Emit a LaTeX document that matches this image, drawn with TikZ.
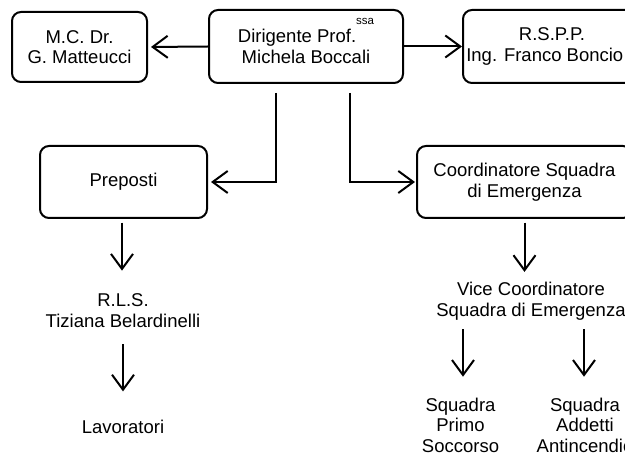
\documentclass[tikz,border=0pt]{standalone}
\usepackage{fontspec}
\setmainfont{Liberation Sans}
\usetikzlibrary{arrows.meta}

\tikzset{
  box/.style={draw, line width=2pt, rounded corners=9pt, align=center, minimum height=72pt, inner sep=0pt},
  txt/.style={align=center, inner sep=0pt},
  arr/.style={-{Straight Barb[length=15pt,width=22pt]}, line width=2pt},
}

\begin{document}
\begin{tikzpicture}[x=1pt, y=-1pt, font=\fontsize{18.5}{20.5}\selectfont]
\useasboundingbox (0,0) rectangle (625,454);

\node[box, minimum width=135pt, minimum height=70pt] (mc) at (79.5,47) {M.C. Dr.\\G. Matteucci};
\node[box, minimum width=194pt, minimum height=73pt] (dir) at (306,46.5) {Dirigente Prof.\raisebox{18.5pt}[0pt][0pt]{\fontsize{11.5}{12}\selectfont ssa}\\Michela Boccali};
\node[box, minimum width=178pt, minimum height=73pt] (rspp) at (552,46.5) {R.S.P.P.\\Ing. Franco Boncio\phantom{ni}};
\node[box, minimum width=167pt] (prep) at (123.5,182) {Preposti};
\node[box, minimum width=215pt] (coord) at (524.5,182) {Coordinatore Squadra\\di Emergenza};
\node[txt] (rls) at (123,310.4) {R.L.S.\\Tiziana Belardinelli};
\node[txt] (lav) at (123,426.7) {Lavoratori};
\node[txt] (vice) at (531,301) {Vice Coordinatore\\Squadra di Emergenza};
\node[txt] (sps) at (460.5,425.2) {Squadra\\Primo\\Soccorso};
\node[txt] (saa) at (585,425.2) {Squadra\\Addetti\\Antincendio};

\draw[arr, shorten >=3pt] (dir.west) -- (mc.east);
\draw[arr] (dir.east) -- (rspp.west);
\draw[arr, shorten <=9pt, shorten >=3pt] ([xshift=-30pt]dir.south) |- (prep.east);
\draw[arr, shorten <=9pt, shorten >=1pt] ([xshift=44pt]dir.south) |- (coord.west);
\draw[arr, shorten <=3.7pt, shorten >=22.8pt] ([xshift=-1.5pt]prep.south) -- ([xshift=-1.5pt]prep.south |- rls.north);
\draw[arr, shorten <=16.7pt, shorten >=28.3pt] (rls.south) -- (lav.north);
\draw[arr, shorten <=3.7pt, shorten >=10pt] (coord.south) -- (coord.south |- vice.north);
\draw[arr, shorten <=9.4pt, shorten >=21pt] ([xshift=2.5pt]sps.north |- vice.south) -- ([xshift=2.5pt]sps.north);
\draw[arr, shorten <=9.4pt, shorten >=21pt] ([xshift=-1pt]saa.north |- vice.south) -- ([xshift=-1pt]saa.north);
\end{tikzpicture}
\end{document}
